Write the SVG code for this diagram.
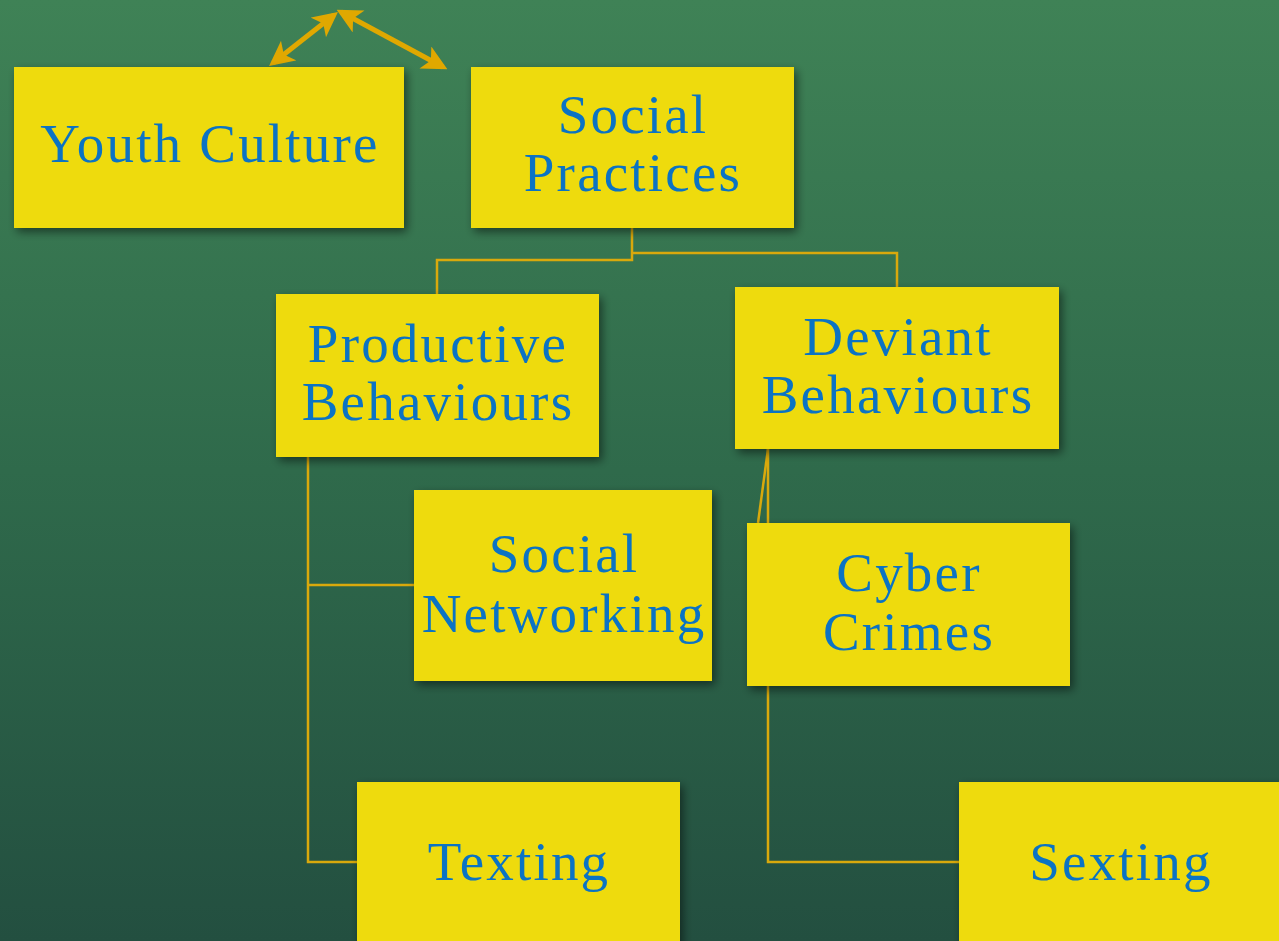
<svg xmlns="http://www.w3.org/2000/svg" width="1279" height="941" viewBox="0 0 1279 941">
<defs>
<linearGradient id="bg" x1="0" y1="0" x2="0" y2="1">
<stop offset="0" stop-color="#3f8256"/>
<stop offset="0.5" stop-color="#2f6a4b"/>
<stop offset="1" stop-color="#234f40"/>
</linearGradient>
<filter id="sh" x="-10%" y="-10%" width="125%" height="130%">
<feGaussianBlur in="SourceAlpha" stdDeviation="5"/>
<feOffset dx="3" dy="4" result="b"/>
<feComponentTransfer><feFuncA type="linear" slope="0.5"/></feComponentTransfer>
<feMerge><feMergeNode/><feMergeNode in="SourceGraphic"/></feMerge>
</filter>
<marker id="ah" viewBox="0 0 10 10" refX="8" refY="5" markerWidth="5" markerHeight="5" orient="auto-start-reverse">
<path d="M0,0 L10,5 L0,10 L2.5,5 z" fill="#e0a800"/>
</marker>
<style>
.box{fill:#eedb08;filter:url(#sh)}
.t{font-family:"Liberation Serif","Times New Roman",serif;font-size:55px;letter-spacing:2.2px;fill:#0b73c4;text-anchor:middle}
.c{fill:none;stroke:#d9a90c;stroke-width:2.5}
.a{fill:none;stroke:#e0a800;stroke-width:5}
</style>
</defs>
<rect width="1279" height="941" fill="url(#bg)"/>
<g id="connectors">
<path class="c" d="M632,228 V260 H437 V294"/>
<path class="c" d="M632,253 H897 V287"/>
<path class="c" d="M308,457 V862 H357"/>
<path class="c" d="M308,585 H414"/>
<path class="c" d="M768,449 V862 H959"/>
<path class="c" d="M768,449 L758,523"/>
<line class="a" x1="334" y1="15" x2="273" y2="63" marker-start="url(#ah)" marker-end="url(#ah)"/>
<line class="a" x1="341" y1="12" x2="443" y2="67" marker-start="url(#ah)" marker-end="url(#ah)"/>
</g>
<g id="youth-culture"><rect class="box" x="14" y="67" width="390" height="161"/><text class="t" x="210" y="162">Youth Culture</text></g>
<g id="social-practices"><rect class="box" x="471" y="67" width="323" height="161"/><text class="t" x="633" y="133">Social</text><text class="t" x="633" y="191">Practices</text></g>
<g id="productive-behaviours"><rect class="box" x="276" y="294" width="323" height="163"/><text class="t" x="438" y="362">Productive</text><text class="t" x="438" y="420">Behaviours</text></g>
<g id="deviant-behaviours"><rect class="box" x="735" y="287" width="324" height="162"/><text class="t" x="898" y="355">Deviant</text><text class="t" x="898" y="413">Behaviours</text></g>
<g id="social-networking"><rect class="box" x="414" y="490" width="298" height="191"/><text class="t" x="564" y="572">Social</text><text class="t" x="564" y="632">Networking</text></g>
<g id="cyber-crimes"><rect class="box" x="747" y="523" width="323" height="163"/><text class="t" x="909" y="591">Cyber</text><text class="t" x="909" y="650">Crimes</text></g>
<g id="texting"><rect class="box" x="357" y="782" width="323" height="170"/><text class="t" x="519" y="880">Texting</text></g>
<g id="sexting"><rect class="box" x="959" y="782" width="330" height="170"/><text class="t" x="1121" y="880">Sexting</text></g>
</svg>
